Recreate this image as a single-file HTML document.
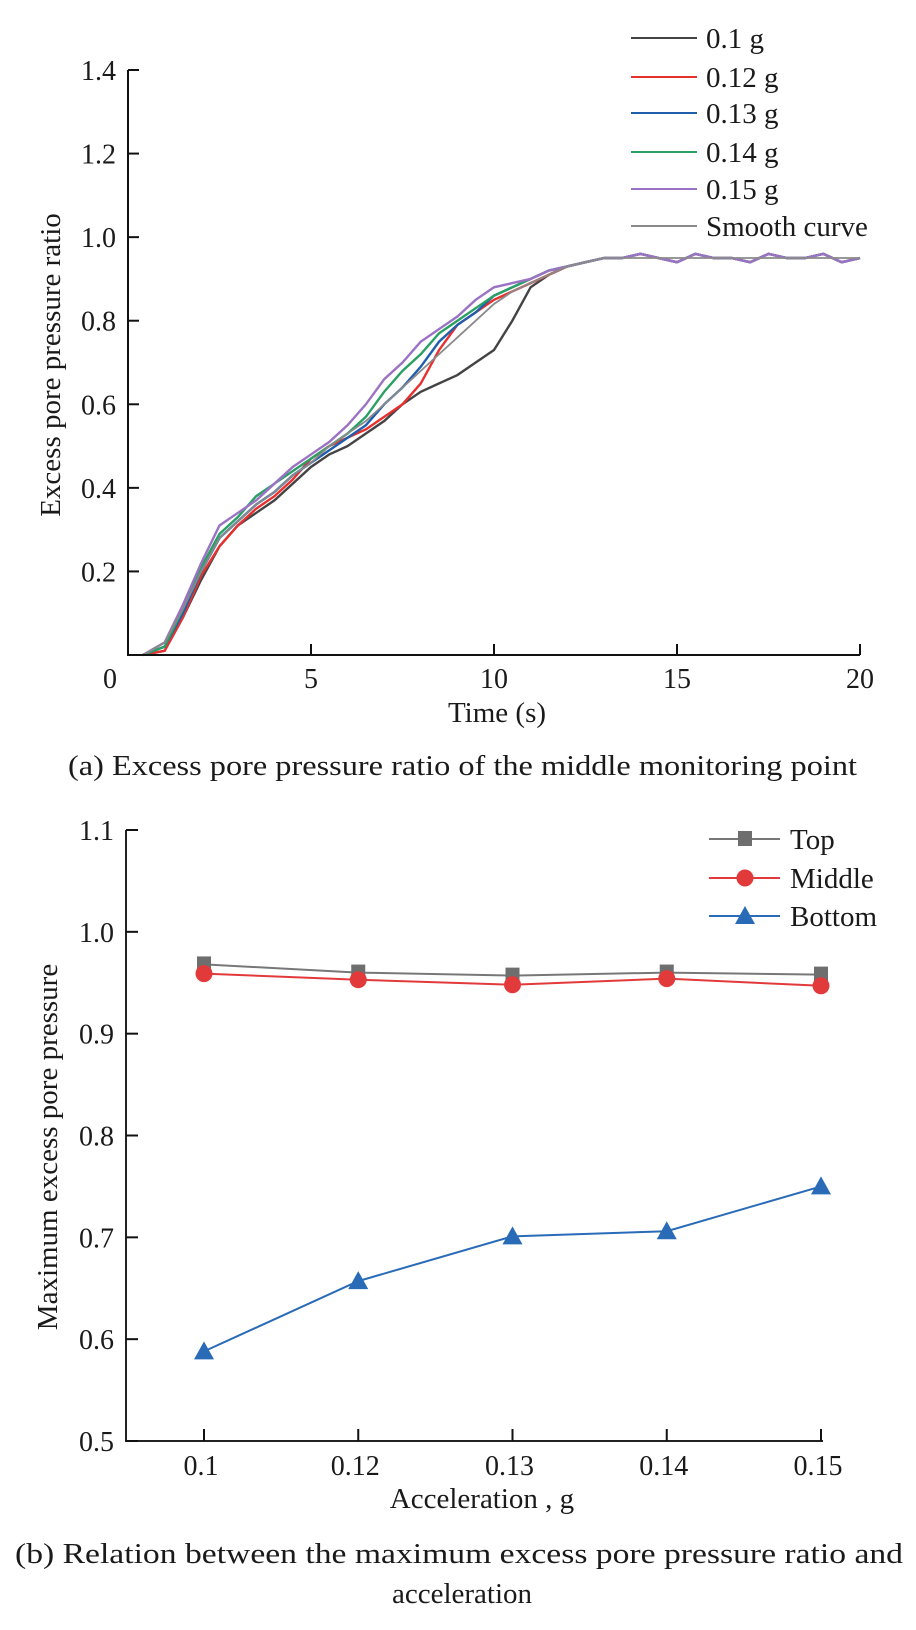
<!DOCTYPE html>
<html><head><meta charset="utf-8"><style>
body{margin:0;background:#fff;}
svg text{font-family:"Liberation Serif",serif;fill:#1a1a1a;}
</style></head><body>
<svg id="c" width="916" height="1625" viewBox="0 0 916 1625" xmlns="http://www.w3.org/2000/svg"></svg>
<script>
// ---- Chart (a) data ----
const timesA=[0.4,1,1.5,2,2.5,3,3.5,4,4.5,5,5.5,6,6.5,7,7.5,8,8.5,9,9.5,10,10.5,11,11.5,12,12.5,13,13.5,14,14.5,15,15.5,16,16.5,17,17.5,18,18.5,19,19.5,20];
const tail=[0.95,0.96,0.95,0.94,0.96,0.95,0.95,0.94,0.96,0.95,0.95,0.96,0.94,0.95];
const s010=[0,0.01,0.09,0.18,0.26,0.31,0.34,0.37,0.41,0.45,0.48,0.5,0.53,0.56,0.6,0.63,0.65,0.67,0.7,0.73,0.8,0.88,0.91,0.93,0.94,0.95].concat(tail);
const s012=[0,0.01,0.09,0.19,0.26,0.31,0.35,0.38,0.42,0.47,0.5,0.52,0.54,0.57,0.6,0.65,0.73,0.79,0.82,0.85,0.87,0.89,0.91,0.93,0.94,0.95].concat(tail);
const s013=[0,0.02,0.1,0.2,0.28,0.32,0.36,0.39,0.43,0.46,0.49,0.52,0.55,0.6,0.64,0.69,0.75,0.79,0.82,0.86,0.88,0.9,0.92,0.93,0.94,0.95].concat(tail);
const s014=[0,0.02,0.11,0.21,0.29,0.33,0.38,0.41,0.44,0.47,0.5,0.53,0.57,0.63,0.68,0.72,0.77,0.8,0.83,0.86,0.88,0.9,0.92,0.93,0.94,0.95].concat(tail);
const s015=[0,0.03,0.12,0.22,0.31,0.34,0.37,0.41,0.45,0.48,0.51,0.55,0.6,0.66,0.7,0.75,0.78,0.81,0.85,0.88,0.89,0.9,0.92,0.93,0.94,0.95].concat(tail);
const sSmooth=[0,0.03,0.11,0.2,0.28,0.32,0.36,0.39,0.43,0.46,0.5,0.53,0.56,0.6,0.64,0.68,0.72,0.76,0.8,0.84,0.87,0.89,0.91,0.93,0.94,0.95,0.95,0.95,0.95,0.95,0.95,0.95,0.95,0.95,0.95,0.95,0.95,0.95,0.95,0.95];
const ticksXA=[0,5,10,15,20];
const ticksYA=[0.2,0.4,0.6,0.8,1.0,1.2,1.4];
const seriesNamesA=["0.1 g","0.12 g","0.13 g","0.14 g","0.15 g","Smooth curve"];
// ---- Chart (b) data ----
const catsB=["0.1","0.12","0.13","0.14","0.15"];
const topB=[0.968,0.960,0.957,0.960,0.958];
const midB=[0.959,0.953,0.948,0.954,0.947];
const botB=[0.588,0.657,0.701,0.706,0.750];
const ticksYB=[0.5,0.6,0.7,0.8,0.9,1.0,1.1];

const svg=document.getElementById('c');
const NS="http://www.w3.org/2000/svg";
function el(tag,attrs,parent){const e=document.createElementNS(NS,tag);for(const k in attrs)e.setAttribute(k,attrs[k]);(parent||svg).appendChild(e);return e;}
function txt(s,attrs,parent){const e=el('text',attrs,parent);e.textContent=s;return e;}

// ===== Chart (a) =====
const X0A=128,X1A=860,Y0A=655,Y1A=70;
const xA=t=>X0A+t*(X1A-X0A)/20;
const yA=v=>Y0A-v*(Y0A-Y1A)/1.4;
const gA=el('g',{});


const colsA=["#444444","#e8312f","#1f5fae","#2aa064","#9b72c4","#8a8a8a"];
const dataA=[s010,s012,s013,s014,s015,sSmooth];
dataA.forEach((arr,i)=>{
  const p=el('polyline',{points:arr.map((v,j)=>xA(timesA[j])+','+yA(v)).join(' '),fill:'none',stroke:colsA[i],'stroke-width':i==5?1.8:2.4},gA);
  
  
});
const axA=el('path',{d:`M${X0A},${Y1A}V${Y0A}H${X1A}`,fill:'none',stroke:'#111','stroke-width':2},gA);

ticksYA.forEach(v=>{el('line',{x1:X0A,x2:X0A+11,y1:yA(v),y2:yA(v),stroke:'#111','stroke-width':2},gA);
  const t=txt(v.toFixed(1),{x:116,y:yA(v)+10,'font-size':28,'text-anchor':'end'},gA);
  });
ticksXA.forEach(v=>{el('line',{x1:xA(v),x2:xA(v),y1:Y0A,y2:Y0A-11,stroke:'#111','stroke-width':2},gA);
  const t=txt(String(v),{x:v===0?110:xA(v),y:688,'font-size':28,'text-anchor':'middle'},gA);
  });
let t1=txt('Time (s)',{x:497,y:722,'font-size':29,'text-anchor':'middle'},gA);

let t2=txt('Excess pore pressure ratio',{x:60,y:365,'font-size':29,'text-anchor':'middle',transform:'rotate(-90 60 365)'},gA);

const legYA=[38,77,113,152,189,226];
seriesNamesA.forEach((n,i)=>{
  const g=el('g',{},gA);
  
  el('line',{x1:631,x2:697,y1:legYA[i],y2:legYA[i],stroke:colsA[i],'stroke-width':2},g);
  txt(n,{x:706,y:legYA[i]+10,'font-size':29},g);
});
let c1=txt('(a) Excess pore pressure ratio of the middle monitoring point',{x:68,y:775,'font-size':29,textLength:789,lengthAdjust:'spacingAndGlyphs'});


// ===== Chart (b) =====
const X0B=126,X1B=823,Y0B=1441,Y1B=830;
const catX0=204,catX1=821;
const xB=i=>catX0+i*(catX1-catX0)/(catsB.length-1);
const yB=v=>Y0B-(v-0.5)*(Y0B-Y1B)/0.6;
const gB=el('g',{});


const axB=el('path',{d:`M${X0B},${Y1B}V${Y0B}H${X1B}`,fill:'none',stroke:'#222','stroke-width':2},gB);

ticksYB.forEach(v=>{el('line',{x1:X0B,x2:X0B+12,y1:yB(v),y2:yB(v),stroke:'#111','stroke-width':2},gB);
  const t=txt(v.toFixed(1),{x:114,y:yB(v)+10,'font-size':28,'text-anchor':'end'},gB);
  });
catsB.forEach((c,i)=>{el('line',{x1:xB(i),x2:xB(i),y1:Y0B,y2:Y0B-12,stroke:'#111','stroke-width':2},gB);
  const t=txt(c,{x:xB(i)-3,y:1475,'font-size':28,'text-anchor':'middle'},gB);
  });
let t3=txt('Acceleration , g',{x:482,y:1508,'font-size':29,'text-anchor':'middle'},gB);

let t4=txt('Maximum excess pore pressure',{x:57,y:1147,'font-size':29,'text-anchor':'middle',transform:'rotate(-90 57 1147)'},gB);

function marker(kind,x,y,col,parent){
  if(kind==='sq') return el('rect',{x:x-7,y:y-8,width:14,height:15,fill:col},parent);
  if(kind==='ci') return el('circle',{cx:x,cy:y,r:8.5,fill:col},parent);
  return el('polygon',{points:`${x},${y-10} ${x-10},${y+8} ${x+10},${y+8}`,fill:col},parent);
}
const seriesB=[{n:'Top',d:topB,c:'#6e6e6e',lc:'#777',m:'sq'},{n:'Middle',d:midB,c:'#e23a3a',lc:'#e23a3a',m:'ci'},{n:'Bottom',d:botB,c:'#2a6bb8',lc:'#2a6bb8',m:'tr'}];
seriesB.forEach(s=>{
  const g=el('g',{},gB);
  
  el('polyline',{points:s.d.map((v,i)=>xB(i)+','+yB(v)).join(' '),fill:'none',stroke:s.lc,'stroke-width':2},g);
  s.d.forEach((v,i)=>{const m=marker(s.m,xB(i),yB(v),s.c,g);
    });
});
const legYB=[839,878,916];
seriesB.forEach((s,i)=>{
  const g=el('g',{},gB);
  
  el('line',{x1:709,x2:780,y1:legYB[i],y2:legYB[i],stroke:s.lc,'stroke-width':2},g);
  marker(s.m,745,legYB[i],s.c,g);
  txt(s.n,{x:790,y:legYB[i]+10,'font-size':29},g);
});
let c2=txt('(b) Relation between the maximum excess pore pressure ratio and',{x:15,y:1563,'font-size':29,textLength:888,lengthAdjust:'spacingAndGlyphs'});

let c3=txt('acceleration',{x:462,y:1603,'font-size':29,'text-anchor':'middle'});

</script>
</body></html>
